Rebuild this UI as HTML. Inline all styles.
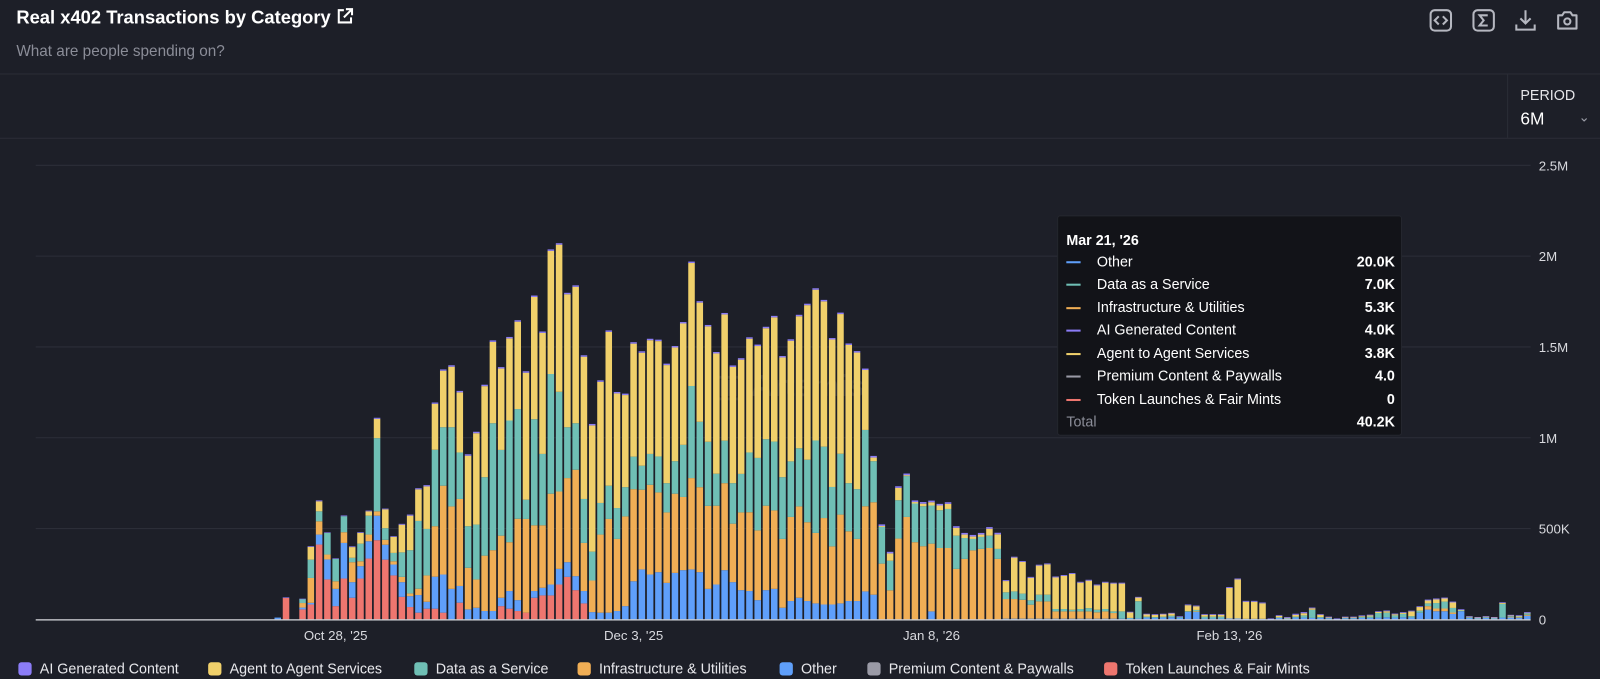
<!DOCTYPE html>
<html><head><meta charset="utf-8">
<style>
html,body{margin:0;padding:0;background:#1d1f28;width:1600px;height:679px;overflow:hidden;font-family:"Liberation Sans",sans-serif;}
#root{position:relative;width:1600px;height:679px;background:#1d1f28;transform:scale(1.0204);transform-origin:0 0;}
.title{position:absolute;left:16px;top:7px;color:#fff;font-size:18px;font-weight:bold;}
.sub{position:absolute;left:16px;top:42px;color:#8b8d98;font-size:15px;}
.hline{position:absolute;left:0;width:1600px;height:1px;background:#2b2d37;}
.icon{position:absolute;top:8px;width:24px;height:24px;}
.period{position:absolute;left:1477px;top:73px;width:123px;height:62px;border-left:1px solid #2b2d37;}
.period .l{position:absolute;left:12px;top:12px;color:#e6e6ea;font-size:14px;}
.period .v{position:absolute;left:12px;top:34px;color:#fff;font-size:17px;}
.period .c{position:absolute;left:69px;top:34px;color:#9a9ca6;font-size:13px;}
.legend{position:absolute;top:646px;height:18px;display:flex;align-items:center;font-size:14px;color:#e8e8ec;}
.legend i{display:inline-block;width:13px;height:13px;border-radius:3px;margin-right:8px;}
.tt{position:absolute;left:1036px;top:211px;width:336px;height:214px;background:#121318;border:1px solid #24262e;border-radius:3px;color:#fff;font-size:14px;}
.tt .d{position:absolute;left:8px;top:15px;font-weight:bold;}
.tt .r{position:absolute;left:8px;width:322px;height:18px;}
.tt .r b{position:absolute;left:0;top:8px;width:14px;height:2px;}
.tt .r span{position:absolute;left:30px;top:0;}
.tt .r em{position:absolute;right:0;top:0;font-style:normal;font-weight:bold;}
</style></head>
<body>
<div id="root">
<div class="title">Real x402 Transactions by Category <svg width="18" height="18" viewBox="0 0 18 18" style="vertical-align:-2px"><path d="M8 3H3v12h12v-5" stroke="#fff" stroke-width="2" fill="none"/><path d="M10 2h6v6M16 2l-8 8" stroke="#fff" stroke-width="2" fill="none"/></svg></div>
<div class="sub">What are people spending on?</div>
<div class="hline" style="top:72px"></div>
<div class="hline" style="top:135px"></div>
<svg class="icon" style="left:1400px" viewBox="0 0 24 24"><rect x="2" y="2" width="20" height="20" rx="4" stroke="#b5b7c0" stroke-width="2" fill="none"/><path d="M10 8l-4 4 4 4M14 8l4 4-4 4" stroke="#b5b7c0" stroke-width="2" fill="none"/></svg>
<svg class="icon" style="left:1442px" viewBox="0 0 24 24"><rect x="2" y="2" width="20" height="20" rx="4" stroke="#b5b7c0" stroke-width="2" fill="none"/><path d="M16 7H8l4 5-4 5h8" stroke="#b5b7c0" stroke-width="2" fill="none"/></svg>
<svg class="icon" style="left:1483px" viewBox="0 0 24 24"><path d="M12 2v13M7 10l5 5 5-5M3 16v5h18v-5" stroke="#b5b7c0" stroke-width="2" fill="none"/></svg>
<svg class="icon" style="left:1524px" viewBox="0 0 24 24"><path d="M3 7h4l2-3h6l2 3h4v13H3z" stroke="#b5b7c0" stroke-width="2" fill="none" stroke-linejoin="round"/><circle cx="12" cy="13" r="3" stroke="#b5b7c0" stroke-width="2" fill="none"/></svg>
<div class="period"><div class="l">PERIOD</div><div class="v">6M</div><div class="c">&#8964;</div></div>

<svg id="chart" width="1600" height="679" style="position:absolute;left:0;top:0"></svg>

<div class="tt">
<div class="d">Mar 21, '26</div>
<div class="r" style="top:36px"><b style="background:#5f9ffa"></b><span>Other</span><em>20.0K</em></div>
<div class="r" style="top:58px"><b style="background:#6fbfb5"></b><span>Data as a Service</span><em>7.0K</em></div>
<div class="r" style="top:81px"><b style="background:#f0ae55"></b><span>Infrastructure &amp; Utilities</span><em>5.3K</em></div>
<div class="r" style="top:103px"><b style="background:#8b7cf6"></b><span>AI Generated Content</span><em>4.0K</em></div>
<div class="r" style="top:126px"><b style="background:#f0d06b"></b><span>Agent to Agent Services</span><em>3.8K</em></div>
<div class="r" style="top:148px"><b style="background:#9a9aa6"></b><span>Premium Content &amp; Paywalls</span><em>4.0</em></div>
<div class="r" style="top:171px"><b style="background:#ee766f"></b><span>Token Launches &amp; Fair Mints</span><em>0</em></div>
<div class="r" style="top:193px;color:#8b8d98"><span style="left:0">Total</span><em style="color:#fff">40.2K</em></div>
</div>

<div class="legend" style="left:18px"><i style="background:#8b7cf6"></i>AI Generated Content</div>
<div class="legend" style="left:204px"><i style="background:#f0d06b"></i>Agent to Agent Services</div>
<div class="legend" style="left:406px"><i style="background:#6fbfb5"></i>Data as a Service</div>
<div class="legend" style="left:566px"><i style="background:#f0ae55"></i>Infrastructure &amp; Utilities</div>
<div class="legend" style="left:764px"><i style="background:#5f9ffa"></i>Other</div>
<div class="legend" style="left:850px"><i style="background:#9a9aa6"></i>Premium Content &amp; Paywalls</div>
<div class="legend" style="left:1082px"><i style="background:#ee766f"></i>Token Launches &amp; Fair Mints</div>
</div>

<script>
// values in thousands, one per day from Sep 22 '25 to Mar 21 '26
const token = [0,0,0,0,0,0,0,0,0,0,0,0,0,0,0,0,0,0,0,0,0,0,0,0,0,0,0,0,0,
0,119,0,55,82,412,220,73,225,119,
225,335,436,329,242,124,68,37,59,59,
37,0,92,0,0,0,0,73,59,46,
37,119,132,132,192,234,161,88,
0,0,0,0,0,0,0,0,0,0,0,0,0,0,0,0,0,0,0,0,0,0,0,0,0,0,0,0,0,0,0,0,0,0,0,0,0,0,0,0,0,0,0,0,0,0,0,0,0,0,0,0,0,0,0,0,0,0,0,0,0,0,0,0,0,0,0,0,0,0,0,0,0,0,0,0,0,0,0,0,0,0,0,0,0,0,0,0,0,0,0,0,0,0,0,0,0,0,0,0,0,0,0,0,0,0,0,0,0,0];
const other = [0,0,0,0,0,0,0,0,0,0,0,0,0,0,0,0,0,0,0,0,0,0,0,0,0,0,0,0,0,
10,0,0,10,9,55,110,95,196,86,
68,95,135,82,60,81,60,97,38,176,
210,168,92,55,64,46,46,46,97,60,
0,37,42,60,86,81,77,68,40,37,
37,46,73,210,275,247,260,201,256,271,
275,260,168,192,271,205,161,156,106,161,
168,64,101,119,101,88,82,82,88,101,
101,154,136,0,0,0,0,0,0,44,
0,0,0,0,0,0,0,0,4,4,
4,4,4,4,4,4,4,4,4,4,
4,4,4,5,5,10,8,10,12,8,
41,41,5,5,5,5,5,3,3,3,
2,8,5,10,10,8,8,6,2,6,
6,8,8,10,12,10,12,10,36,54,
45,45,30,45,10,6,10,6,10,12,
10,20];
const infra = [0,0,0,0,0,0,0,0,0,0,0,0,0,0,0,0,0,0,0,0,0,0,0,0,0,0,0,0,0,
0,0,0,25,137,73,27,42,59,110,
27,37,24,27,18,29,15,35,145,278,
489,454,479,229,156,305,335,342,269,448,
516,362,344,500,426,463,586,265,174,430,
516,397,494,507,439,494,439,388,436,403,
503,468,457,434,479,322,428,434,384,465,
432,379,463,503,434,388,476,320,489,384,
342,469,509,307,160,445,564,425,403,373,
393,393,278,333,380,388,393,333,108,108,
104,77,95,95,40,40,40,40,40,35,
40,31,0,0,0,0,0,0,0,0,
0,3,0,0,0,0,0,0,0,0,
0,0,0,0,0,0,0,0,0,0,
0,0,0,0,0,0,0,0,0,19,
15,15,8,0,0,0,0,0,0,2,
2,5.3];
const dataSvc = [0,0,0,0,0,0,0,0,0,0,0,0,0,0,0,0,0,0,0,0,0,0,0,0,0,0,0,0,0,
0,0,0,22,101,55,119,123,88,24,
97,104,403,64,46,135,238,373,256,421,
322,436,256,229,302,432,699,472,670,604,
106,584,393,659,549,280,256,242,159,174,
183,170,161,179,132,170,198,161,179,287,
507,360,353,176,234,223,212,329,399,366,
379,340,306,320,344,509,393,327,335,265,
274,420,226,202,163,211,225,213,220,210,
208,215,183,115,63,66,68,55,37,42,
34,24,37,37,13,13,9,13,18,14,
13,9,40,3,95,5,5,5,8,5,
4,8,10,10,10,0,0,0,0,0,
0,3,2,5,12,45,5,3,0,3,
3,6,8,25,25,12,18,8,12,15,
30,38,25,5,2,2,2,2,75,4,
4,7];
const agent = [0,0,0,0,0,0,0,0,0,0,0,0,0,0,0,0,0,0,0,0,0,0,0,0,0,0,0,0,0,
0,0,0,0,70,55,0,0,0,59,
59,24,106,104,88,152,190,174,234,253,
311,333,331,388,503,501,448,448,452,481,
699,673,666,678,810,732,751,783,695,667,
847,631,507,622,622,626,635,650,626,668,
677,656,635,662,695,640,629,626,616,611,
684,659,664,727,851,830,800,812,769,761,
752,330,20,5,40,68,5,8,14,18,
26,28,43,19,13,13,38,80,62,186,
174,124,160,167,174,182,197,145,151,134,
145,153,153,30,20,12,12,12,12,0,
33,20,10,10,10,168,215,94,94,85,
0,8,2,10,12,8,12,2,0,2,
2,4,6,6,8,6,6,26,20,16,
20,17,30,2,3,2,3,2,5,3,
3,3.8];
const premium = [0,0,0,0,0,0,0,0,0,0,0,0,0,0,0,0,0,0,0,0,0,0,0,0,0,0,0,0,0,
0,0,0,0,0,0,0,0,0,0,0,0,0,0,0,0,0,0,0,0,0,0,0,0,0,0,0,0,0,0,
0,0,0,0,0,0,0,0,0,0,0,0,0,0,0,0,0,0,0,0,0,0,0,0,0,0,0,0,0,0,
0,0,0,0,0,0,0,0,0,0,0,0,0,0,0,0,0,0,0,0,0,0,0,0,0,0,0,0,0,0,
0,0,0,0,0,0,0,0,0,0,0,0,0,0,0,0,0,0,0,0,0,0,0,0,0,0,0,0,0,0,
0,0,0,0,0,0,0,0,0,0,0,0,0,0,0,0,0,0,0,0,0,0,0,0,0,0,0,0,0,0,
0,0.004];
const ai = [0,0,0,0,0,0,0,0,0,0,0,0,0,0,0,0,0,0,0,0,0,0,0,0,0,0,0,0,0,
0,2,0,2,4,5,3,3,4,4,
4,4,6,4,4,5,6,6,7,7,
7,8,8,8,8,8,8,8,8,8,
8,8,8,8,8,8,8,8,8,8,
8,8,8,8,8,8,8,8,8,8,
8,8,8,8,8,8,8,8,8,8,
8,8,8,8,8,8,8,8,8,8,
8,8,9,9,9,9,9,9,9,9,
9,9,9,9,9,9,9,9,5,5,
5,5,5,5,5,5,5,5,5,5,
5,5,5,4,4,4,4,4,4,4,
4,4,4,4,4,5,5,5,5,5,
3,4,4,6,6,4,4,4,3,4,
4,4,4,4,4,4,4,4,4,5,
5,5,5,4,3,3,3,3,4,4,
4,4];
const yTicks = [0,500,1000,1500,2000,2500];
const yTickLabels = ["0","500K","1M","1.5M","2M","2.5M"];
const xTickIdx = [36,72,108,144];
const xTickLabels = ["Oct 28, '25","Dec 3, '25","Jan 8, '26","Feb 13, '26"];

const NS = "http://www.w3.org/2000/svg";
const svg = document.getElementById('chart');
const X0 = 37, STEP = 8.11, BW = 6.4, Y0 = 607, YMAX = 2500, YH = 445;
function xPos(i){ return X0 + i*STEP; }
function yPos(v){ return Y0 - v/YMAX*YH; }
function mk(tag, attrs){ const e=document.createElementNS(NS,tag); for(const k in attrs) e.setAttribute(k, attrs[k]); svg.appendChild(e); return e; }

yTicks.forEach((t,k)=>{
  if(t>0){
    const g = mk('line',{x1:35,x2:1500,y1:yPos(t),y2:yPos(t),stroke:'#2c2e38','stroke-width':1});
    
    
  }
  const tx = mk('text',{x:1508,y:yPos(t)+5,fill:'#d8d9de','font-size':13,'font-family':'Liberation Sans, sans-serif'});
  tx.textContent = yTickLabels[k];
  
  
});

const wm = mk('text',{x:700,y:388,fill:'#3a3c44','font-size':30,'font-weight':'bold','font-family':'Liberation Sans, sans-serif',opacity:0.6});
wm.textContent = '\u25A3 Artemis';



const series = [[token,'#ee766f','token'],[other,'#5f9ffa','other'],[infra,'#f0ae55','infra'],[dataSvc,'#6fbfb5','data'],[agent,'#f0d06b','agent'],[premium,'#9a9aa6','premium'],[ai,'#8b7cf6','ai']];
const n = Math.max(token.length, other.length, infra.length, dataSvc.length, agent.length, premium.length, ai.length);
for(let i=0;i<n;i++){
  let acc = 0;
  series.forEach(s=>{
    const v = s[0][i] || 0;
    if(!v) return;
    const y1 = yPos(acc), y2 = yPos(acc+v);
    const r = mk('rect',{x:xPos(i)-BW/2,y:y2,width:BW,height:Math.max(y1-y2,0.6),fill:s[1]});
    
    
    acc += v;
  });
}
const base = mk('line',{x1:35,x2:1500,y1:Y0+0.5,y2:Y0+0.5,stroke:'#d8d9de','stroke-width':1.2});



xTickIdx.forEach((ix,k)=>{
  const tx = mk('text',{x:xPos(ix),y:627,fill:'#d8d9de','font-size':13,'text-anchor':'middle','font-family':'Liberation Sans, sans-serif'});
  tx.textContent = xTickLabels[k];
  
  
});
</script>
</body></html>
